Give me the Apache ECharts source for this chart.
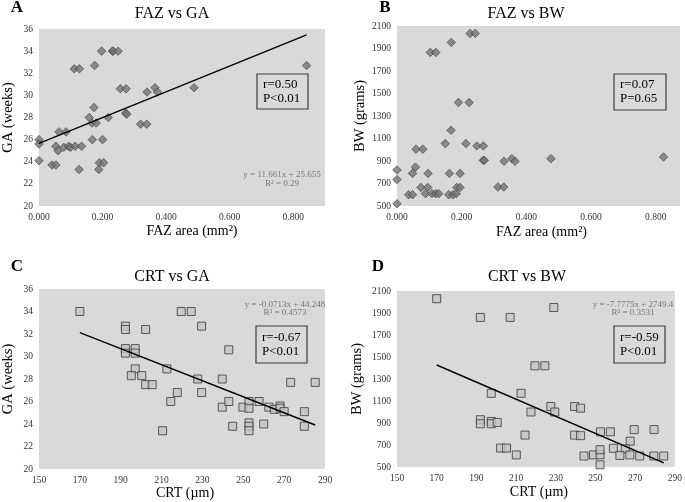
<!DOCTYPE html>
<html>
<head>
<meta charset="utf-8">
<script src="https://cdn.jsdelivr.net/npm/echarts@6/dist/echarts.min.js"></script>
<style>
  html, body { margin: 0; padding: 0; background: #fff; }
  #chart { width: 685px; height: 502px; }
</style>
</head>
<body>
<div id="chart"></div>
<script>
// A: FAZ area vs GA
var fazA = [0.000, 0.000, 0.000, 0.041, 0.053, 0.053, 0.060, 0.063, 0.078, 0.085, 0.093, 0.099, 0.114, 0.134, 0.111,
  0.127, 0.126, 0.158, 0.167, 0.168, 0.175, 0.173, 0.180, 0.190, 0.188, 0.200, 0.203, 0.197, 0.218, 0.231, 0.234,
  0.249, 0.256, 0.274, 0.273, 0.276, 0.320, 0.339, 0.340, 0.365, 0.373, 0.488, 0.842];
var gaA = [26.0, 25.6, 24.1, 23.7, 23.7, 25.4, 25.0, 26.7, 25.3, 26.7, 25.4, 25.3, 25.4, 25.4, 32.4,
  32.4, 23.3, 28.0, 27.5, 26.0, 32.7, 28.9, 27.5, 23.9, 23.3, 26.0, 23.9, 34.0, 28.0, 34.0, 34.0,
  34.0, 30.6, 30.6, 28.4, 28.3, 27.4, 27.4, 30.3, 30.7, 30.3, 30.7, 32.7];

// B: FAZ area vs BW
var fazB = [0.000, 0.000, 0.000, 0.036, 0.048, 0.048, 0.057, 0.059, 0.080, 0.074, 0.088, 0.096, 0.095, 0.108, 0.120,
  0.129, 0.103, 0.120, 0.149, 0.160, 0.162, 0.167, 0.168, 0.173, 0.183, 0.185, 0.190, 0.195, 0.195, 0.213, 0.223,
  0.226, 0.242, 0.247, 0.267, 0.267, 0.270, 0.312, 0.330, 0.331, 0.355, 0.365, 0.476, 0.824];
var bwB = [820, 735, 520, 600, 600, 790, 845, 1005, 1005, 665, 610, 790, 665, 610, 610,
  610, 1865, 1865, 1055, 600, 790, 1173, 1954, 600, 610, 665, 1420, 790, 665, 1055, 1420,
  2034, 2034, 1034, 1034, 906, 906, 669, 669, 898, 921, 898, 921, 936];

// C: CRT vs GA
var crtC = [170.0, 192.3, 192.3, 192.3, 192.3, 197.1, 197.1, 197.1, 195.2, 200.3, 202.2, 202.2, 205.4, 212.6, 214.5,
  217.7, 210.5, 219.6, 224.5, 227.7, 229.6, 229.6, 239.7, 239.7, 242.9, 242.9, 244.8, 249.8, 252.8, 252.8,
  252.8, 252.8, 252.8, 257.7, 260.0, 262.5, 265.2, 268.0, 268.0, 270.0, 273.2, 279.9, 279.9, 285.2];
var gaC = [34.0, 32.7, 32.4, 30.7, 30.3, 30.7, 30.3, 28.9, 28.3, 28.3, 32.4, 27.5, 27.5, 28.9, 26.0,
  26.8, 23.4, 34.0, 34.0, 28.0, 32.7, 26.8, 28.0, 25.5, 30.6, 26.0, 23.8, 25.5, 26.0, 25.4,
  24.1, 23.8, 23.4, 26.0, 24.0, 25.5, 25.3, 25.6, 25.4, 25.1, 27.7, 25.1, 23.8, 27.7];

// D: CRT vs BW
var crtD = [170, 192, 192, 192, 207, 229, 219.5, 224.5, 197.5, 197.5, 197.5, 212.5, 200.5, 217.5, 227.5,
  229.5, 239.5, 242.5, 239.5, 242.5, 214.5, 252.5, 257.5, 269.5, 279.5, 267.5, 259, 265, 249, 252.3,
  252.3, 252.3, 262.3, 267.3, 272.3, 279.4, 284.4, 244.2, 202.2, 205.2, 210.1];
var bwD = [2030, 1860, 930, 893, 1860, 1950, 1420, 1420, 1170, 914, 893, 1170, 905, 1000, 1050,
  1000, 1050, 1035, 790, 785, 790, 820, 820, 840, 840, 735, 670, 665, 610, 611,
  657, 520, 605, 610, 600, 600, 600, 600, 672, 672, 610];

// regression lines (slope, intercept) as printed on the chart
var fitA = [11.661, 25.655];
var fitC = [-0.0713, 44.248];
var fitD = [-7.7775, 2749.4];

function pairs(xs, ys) {
  return xs.map(function (x, i) { return [x, ys[i]]; });
}
function fitLine(xs, fit) {
  var x0 = Math.min.apply(null, xs), x1 = Math.max.apply(null, xs);
  return [[x0, fit[0] * x0 + fit[1]], [x1, fit[0] * x1 + fit[1]]];
}

var serif = 'Liberation Serif, Times New Roman, serif';
var bg = '#d9d9d9';

function gridOf(left, top, width, height) {
  return { left: left, top: top, width: width, height: height, show: true, backgroundColor: bg, borderWidth: 0 };
}

function xAxisOf(idx, min, max, interval, digits, name, gap, padLeft) {
  return {
    gridIndex: idx, type: 'value', min: min, max: max, interval: interval,
    name: name, nameLocation: 'middle', nameGap: gap,
    nameTextStyle: { fontFamily: serif, fontSize: 14, color: '#000', padding: [0, 0, 0, padLeft] },
    axisLine: { show: false }, axisTick: { show: false }, splitLine: { show: false },
    axisLabel: {
      fontFamily: serif, fontSize: 9.5, color: '#333', margin: 6,
      formatter: function (v) {
        var k = (v - min) / interval;
        return Math.abs(k - Math.round(k)) < 1e-6 ? v.toFixed(digits) : '';
      }
    }
  };
}

function yAxisOf(idx, min, max, interval, name, gap) {
  return {
    gridIndex: idx, type: 'value', min: min, max: max, interval: interval,
    name: name, nameLocation: 'middle', nameGap: gap, nameRotate: 90,
    nameTextStyle: { fontFamily: serif, fontSize: 14.5, color: '#000' },
    axisLine: { show: false }, axisTick: { show: false }, splitLine: { show: false },
    axisLabel: {
      fontFamily: serif, fontSize: 9.5, color: '#333', margin: 6,
      formatter: function (v) { return String(v); }
    }
  };
}

var diamond = {
  type: 'scatter', symbol: 'diamond', symbolSize: [8.5, 8.5],
  itemStyle: { color: '#737373', borderColor: '#3f3f3f', borderWidth: 0.8 }
};
var square = {
  type: 'scatter', symbol: 'rect', symbolSize: [8, 8],
  itemStyle: { color: '#c4c4c4', borderColor: '#3a3a3a', borderWidth: 1 }
};
function scatterOf(base, idx, data) {
  return Object.assign({}, base, { xAxisIndex: idx, yAxisIndex: idx, data: data, silent: true });
}
function trendOf(idx, data) {
  return {
    type: 'line', xAxisIndex: idx, yAxisIndex: idx, data: data, symbol: 'none', silent: true,
    lineStyle: { color: '#000', width: 1.4 }, z: 3
  };
}

function txt(x, y, s, size, color, align, weight) {
  return {
    type: 'text', x: x, y: y, silent: true, z: 10,
    style: {
      text: s, fill: color || '#000', font: (weight || 'normal') + ' ' + size + 'px ' + serif,
      align: align || 'center', verticalAlign: 'middle',
      textAlign: align || 'center', textVerticalAlign: 'middle'
    }
  };
}
function box(x, y, w, h) {
  return {
    type: 'rect', silent: true, z: 9,
    shape: { x: x, y: y, width: w, height: h },
    style: { fill: bg, stroke: '#3c3c3c', lineWidth: 1.2 }
  };
}

var chart = echarts.init(document.getElementById('chart'));
chart.setOption({
  animation: false,
  backgroundColor: '#fff',
  grid: [
    gridOf(31, 29, 294, 177),
    gridOf(397, 26, 283, 180),
    gridOf(31, 289, 294, 180),
    gridOf(397, 291, 283, 176)
  ],
  xAxis: [
    xAxisOf(0, 0, 0.9, 0.2, 3, 'FAZ area (mm²)', 18, 20),
    xAxisOf(1, 0, 0.875, 0.2, 3, 'FAZ area (mm²)', 19, 6),
    xAxisOf(2, 150, 290, 20, 0, 'CRT (µm)', 16, 6),
    xAxisOf(3, 150, 290, 20, 0, 'CRT (µm)', 18, 6)
  ],
  yAxis: [
    yAxisOf(0, 20, 36, 2, 'GA (weeks)', 23),
    yAxisOf(1, 500, 2100, 200, 'BW (grams)', 28),
    yAxisOf(2, 20, 36, 2, 'GA (weeks)', 23),
    yAxisOf(3, 500, 2100, 200, 'BW (grams)', 32)
  ],
  series: [
    trendOf(0, fitLine(fazA, fitA)),
    scatterOf(diamond, 0, pairs(fazA, gaA)),
    scatterOf(diamond, 1, pairs(fazB, bwB)),
    trendOf(2, fitLine(crtC, fitC)),
    scatterOf(square, 2, pairs(crtC, gaC)),
    trendOf(3, fitLine(crtD, fitD)),
    scatterOf(square, 3, pairs(crtD, bwD))
  ],
  graphic: [
    txt(17, 8, 'A', 17, '#000', 'center', 'bold'),
    txt(385, 8, 'B', 17, '#000', 'center', 'bold'),
    txt(17, 267, 'C', 17, '#000', 'center', 'bold'),
    txt(378, 267, 'D', 17, '#000', 'center', 'bold'),
    txt(172, 14, 'FAZ vs GA', 16),
    txt(526, 14, 'FAZ vs BW', 16),
    txt(172, 277, 'CRT vs GA', 16),
    txt(527, 277, 'CRT vs BW', 16),

    box(257, 74, 51, 35),
    txt(263, 85, 'r=0.50', 13, '#000', 'left'),
    txt(263, 99, 'P<0.01', 13, '#000', 'left'),
    box(614, 74, 52, 36),
    txt(620, 85, 'r=0.07', 13, '#000', 'left'),
    txt(620, 99, 'P=0.65', 13, '#000', 'left'),
    box(256, 326, 51, 37),
    txt(262, 338, 'r=-0.67', 13, '#000', 'left'),
    txt(262, 352, 'P<0.01', 13, '#000', 'left'),
    box(614, 326, 51, 37),
    txt(620, 338, 'r=-0.59', 13, '#000', 'left'),
    txt(620, 352, 'P<0.01', 13, '#000', 'left'),

    txt(282, 175, 'y = 11.661x + 25.655', 9, '#777'),
    txt(282, 184, 'R² = 0.29', 9, '#777'),
    txt(285, 305, 'y = -0.0713x + 44.248', 9, '#777'),
    txt(285, 313, 'R² = 0.4573', 9, '#777'),
    txt(633, 305, 'y = -7.7775x + 2749.4', 9, '#777'),
    txt(633, 313, 'R² = 0.3531', 9, '#777')
  ]
});
</script>
</body>
</html>
